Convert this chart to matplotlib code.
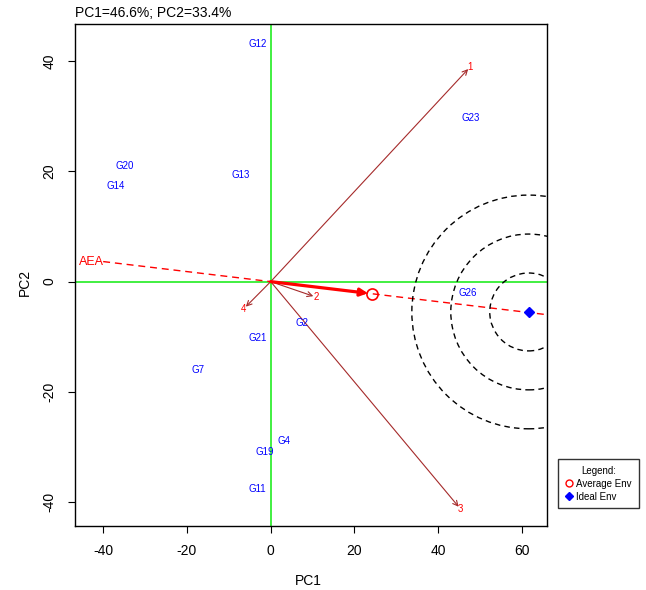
import matplotlib
matplotlib.use("Agg")
import matplotlib.pyplot as plt
from matplotlib.patches import Ellipse
from matplotlib.lines import Line2D
import numpy as np

plt.rcParams['font.family'] = ['Liberation Sans', 'DejaVu Sans']
plt.rcParams['axes.unicode_minus'] = False

# genotype scores (PC1, PC2)
genotypes = ['G12', 'G23', 'G20', 'G14', 'G13', 'G26', 'G2', 'G21', 'G7', 'G4', 'G19', 'G11']
gen_pc1 = [-3.0, 47.8, -34.8, -36.9, -7.1, 47.1, 7.5, -3.0, -17.4, 3.2, -1.4, -3.3]
gen_pc2 = [43.1, 29.6, 21.0, 17.3, 19.3, -2.0, -7.5, -10.2, -16.0, -28.9, -30.9, -37.6]

# environment vectors
environments = ['1', '2', '3', '4']
env_pc1 = [47.6, 10.8, 45.3, -6.4]
env_pc2 = [38.9, -2.8, -41.2, -4.9]

# average environment, ideal environment and AEA label
avg_env = (24.2, -2.2)
ideal_env = (61.6, -5.5)
aea_label = (-42.9, 3.6)
aea_start_x = -40.0
circle_radii = [9.3, 18.6, 27.9]  # in PC1 units

xlim = (-46.8, 65.9)
ylim = (-44.3, 46.7)

fig = plt.figure(figsize=(6.46, 5.90), dpi=100)
ax = fig.add_axes([0.1156, 0.1085, 0.7307, 0.8508])
ax.set_xlim(*xlim)
ax.set_ylim(*ylim)

# reference axes through origin
ax.axhline(0, color='#33ee33', lw=1.3, zorder=1)
ax.axvline(0, color='#33ee33', lw=1.3, zorder=1)

# environment vectors
for name, x, y in zip(environments, env_pc1, env_pc2):
    ax.annotate('', xy=(x, y), xytext=(0, 0),
                arrowprops=dict(arrowstyle='->', color='#A52A2A', lw=0.8,
                                mutation_scale=9, shrinkA=0, shrinkB=2))
    ax.text(x, y, name, color='red', fontsize=7, ha='center', va='center')

# average environment axis (AEA)
slope = avg_env[1] / avg_env[0]
xs = np.array([aea_start_x, xlim[1]])
ax.plot(xs, slope * xs, color='red', ls=(0, (5, 3.5)), lw=1.0, zorder=2)
ax.text(aea_label[0], aea_label[1], 'AEA', color='red', fontsize=9,
        ha='center', va='center')
ax.annotate('', xy=avg_env, xytext=(0, 0),
            arrowprops=dict(arrowstyle='-|>', color='red', lw=2.3,
                            mutation_scale=11, shrinkA=0, shrinkB=3))
ax.plot(*avg_env, marker='o', ms=8, mfc='none', mec='red', mew=1.2, zorder=4)

# concentric circles around the ideal environment
bbox = ax.get_window_extent()
px_x = bbox.width / (xlim[1] - xlim[0])
px_y = bbox.height / (ylim[1] - ylim[0])
for r in circle_radii:
    ax.add_patch(Ellipse(ideal_env, 2 * r, 2 * r * px_x / px_y, fill=False,
                         ec='black', ls=(0, (4, 3)), lw=1.0, zorder=2))
ax.plot(*ideal_env, marker='D', ms=5, color='blue', zorder=5)

# genotype labels
for name, x, y in zip(genotypes, gen_pc1, gen_pc2):
    ax.text(x, y, name, color='blue', fontsize=7, ha='center', va='center')

ax.set_xticks([-40, -20, 0, 20, 40, 60])
ax.set_yticks([-40, -20, 0, 20, 40])
ax.tick_params(axis='both', direction='out', length=5, width=0.8, labelsize=10)
ax.tick_params(axis='x', pad=8)
ax.tick_params(axis='y', pad=8)
for lab in ax.get_yticklabels():
    lab.set_rotation(90)
    lab.set_va('center')
for s in ax.spines.values():
    s.set_linewidth(1.0)

fig.text(308 / 646, 1 - 581 / 590, 'PC1', ha='center', va='center', fontsize=10)
fig.text(25 / 646, 1 - 282 / 590, 'PC2', ha='center', va='center',
         fontsize=10, rotation=90)
fig.text(75 / 646, 1 - 13 / 590, 'PC1=46.6%; PC2=33.4%', ha='left',
         va='center', fontsize=10)

handles = [Line2D([], [], ls='none', marker='o', mfc='none', mec='red', ms=5),
           Line2D([], [], ls='none', marker='D', color='blue', ms=4)]
leg = fig.legend(handles, ['Average Env', 'Ideal Env'], title='Legend:',
                 loc='upper left', bbox_to_anchor=(558 / 646, 1 - 459 / 590),
                 fontsize=7, title_fontsize=7, frameon=True, fancybox=False,
                 edgecolor='black', borderaxespad=0, handlelength=0.8,
                 handletextpad=0.4, borderpad=0.7, labelspacing=0.3)
leg.get_frame().set_linewidth(1.0)

fig.savefig('out.png', dpi=100)
